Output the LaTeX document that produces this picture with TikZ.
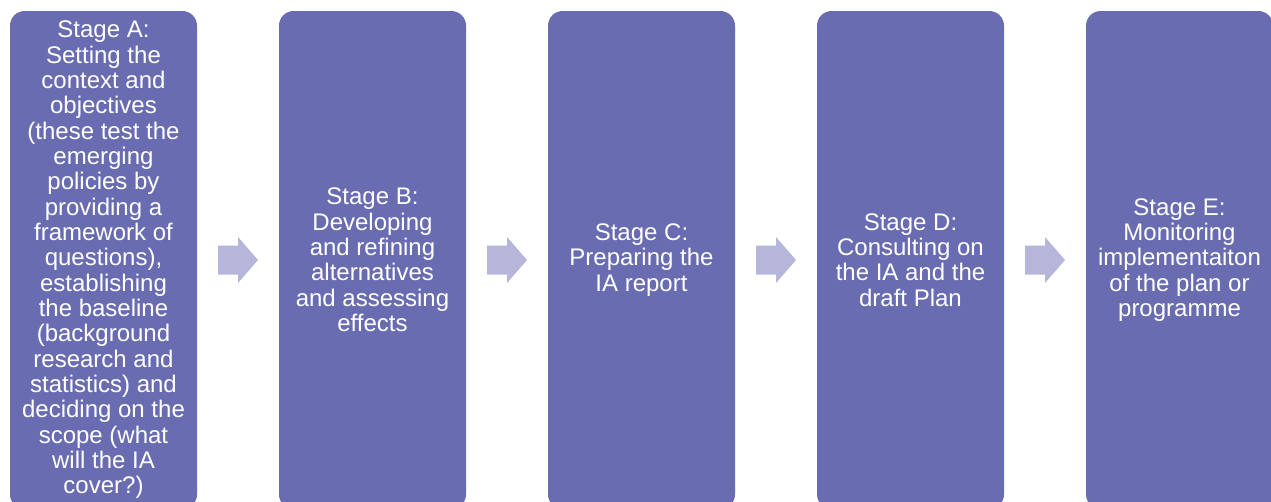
\documentclass[tikz,border=0pt]{standalone}
\usepackage{fontspec}
\setmainfont{Liberation Sans}
\usetikzlibrary{calc}
\definecolor{boxblue}{HTML}{6A6CB2}
\definecolor{arrowlav}{HTML}{B5B6D9}
\begin{document}
\begin{tikzpicture}[x=0.75pt,y=-0.75pt,
  stagebox/.style={fill=boxblue, draw=none, rounded corners=11pt,
    minimum width=140.25pt, minimum height=373.5pt, inner sep=0pt,
    align=center, text=white, font=\fontsize{18}{19}\selectfont},
  blockarrow/.style={fill=arrowlav, draw=none}]
\clip (0,0) rectangle (1271,501);
\fill[white] (0,0) rectangle (1271,501);
\node[stagebox] (A) at (103.5,260) {Stage A:\\Setting the\\context and\\objectives\\(these test the\\emerging\\policies by\\providing a\\framework of\\questions),\\establishing\\the baseline\\(background\\research and\\statistics) and\\deciding on the\\scope (what\\will the IA\\cover?)};
\node[stagebox] (B) at (372.5,260) {Stage B:\\Developing\\and refining\\alternatives\\and assessing\\effects};
\node[stagebox] (C) at (641.5,260) {Stage C:\\Preparing the\\IA report};
\node[stagebox] (D) at (910.5,260) {Stage D:\\Consulting on\\the IA and the\\draft Plan};
\node[stagebox] (E) at (1179.5,260) {Stage E:\\Monitoring\\implementaiton\\of the plan or\\programme};
\foreach \p/\q in {A/B,B/C,C/D,D/E}{
  \coordinate (m\p) at ($(\p.east)!0.5!(\q.west)$);
  \fill[blockarrow] ($(m\p)+(-20,-14.5)$) -- ++(20,0) -- ++(0,-8.5) -- ++(20,23) -- ++(-20,23) -- ++(0,-8.5) -- ++(-20,0) -- cycle;
}
\end{tikzpicture}
\end{document}
